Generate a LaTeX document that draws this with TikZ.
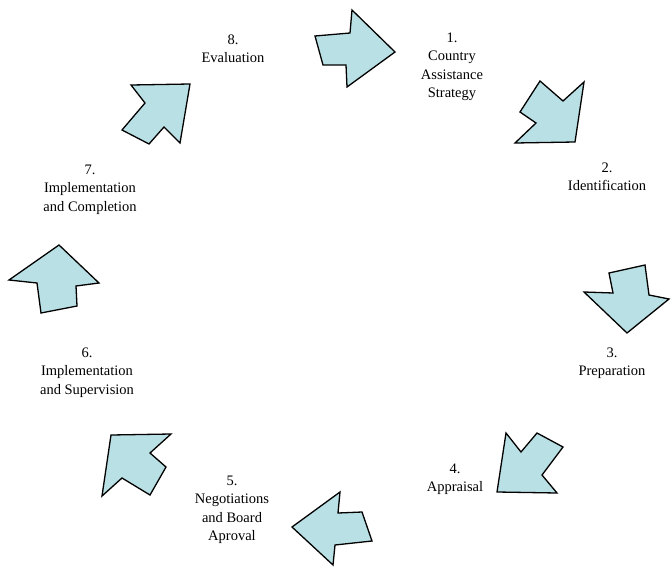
\documentclass[tikz,border=0pt]{standalone}
\usepackage{fontspec}
\setmainfont{Liberation Serif}
\definecolor{arrowfill}{RGB}{185,224,228}
\begin{document}
\begin{tikzpicture}[x=1pt,y=-1pt,
  blockarrow/.style={draw=black,line width=1.3pt,fill=arrowfill,line join=miter},
  steplabel/.style={align=center,inner sep=0pt,anchor=north,font=\fontsize{14.5}{18.5}\selectfont}]
\useasboundingbox (0,0) rectangle (671,567);
% arrows
\draw[blockarrow] (315,36) -- (350,33) -- (352,10) -- (395,52) -- (347,87) -- (346,65) -- (323,65) -- cycle;
\draw[blockarrow] (540,81) -- (563,101) -- (584,82) -- (575,142) -- (515,143) -- (536,123) -- (520,112) -- cycle;
\draw[blockarrow] (609,273) -- (645,265) -- (649,295) -- (669,299) -- (627,333) -- (584,292) -- (613,293) -- cycle;
\draw[blockarrow] (506,433) -- (521,452) -- (537,433) -- (563,447) -- (542,475) -- (557,493) -- (497,492) -- cycle;
\draw[blockarrow] (340,492) -- (338,513) -- (362,512) -- (372,541) -- (335,545) -- (333,565) -- (292,527) -- cycle;
\draw[blockarrow] (111,435) -- (171,434) -- (150,453) -- (166,467) -- (150,495) -- (122,478) -- (102,496) -- cycle;
\draw[blockarrow] (59,245) -- (99,283) -- (76,286) -- (77,306) -- (41,313) -- (37,283) -- (9,280) -- cycle;
\draw[blockarrow] (131,85) -- (190,84) -- (180,143) -- (164,127) -- (149,144) -- (122,130) -- (145,103) -- cycle;
% labels
\node[steplabel] (l1) at (452,32.5) {1.\\Country\\Assistance\\Strategy};
\node[steplabel] (l2) at (607,162.5) {2.\\Identification};
\node[steplabel] (l3) at (612,347.5) {3.\\Preparation};
\node[steplabel] (l4) at (455,463.5) {4.\\Appraisal};
\node[steplabel] (l5) at (232,475.5) {5.\\Negotiations\\and Board\\Aproval};
\node[steplabel] (l6) at (87,347.5) {6.\\Implementation\\and Supervision};
\node[steplabel] (l7) at (90,164.5) {7.\\Implementation\\and Completion};
\node[steplabel] (l8) at (233,34.5) {8.\\Evaluation};
\end{tikzpicture}
\end{document}
